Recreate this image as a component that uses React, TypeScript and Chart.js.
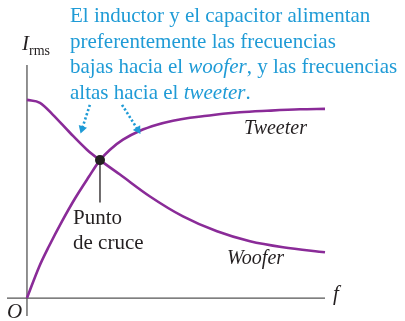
import React, { useEffect, useRef } from "react";
import { Chart, registerables } from "chart.js";

Chart.register(...registerables);

// Frequency (0..100 = origin..right end) and Irms (0..100) values
const wooferF = [0, 4.36, 8.72, 14.43, 20.13, 24.5, 31.21, 41.28, 52.35, 63.76, 74.83, 85.91, 100];
const wooferI = [99.5, 98, 92, 83, 74.5, 69.25, 62, 51, 41, 33.5, 28.5, 25.5, 23];
const tweeterF = [0, 4.03, 7.38, 11.74, 16.11, 20.81, 24.5, 27.85, 32.21, 37.92, 43.62, 48.99, 54.7, 60.4, 65.77, 71.48, 80.54, 91.61, 100];
const tweeterI = [0, 15.5, 26, 38.5, 50, 61, 69.25, 74.5, 79.5, 84, 87, 89, 90.5, 91.5, 92.5, 93.25, 94, 94.75, 95];
const crossPoint = [24.5, 69.25];
const stemBottom = 48;
const arrow1F = [21.1, 18.5];
const arrow1I = [97, 85];
const arrow2F = [31.9, 37.2];
const arrow2I = [97, 84.5];
const arrowAngles = [198, 148];
const xRange = [-6.7, 100];
const yRange = [-9, 117];

const PURPLE = "#8a2b98";
const BLUE = "#1f9bd6";
const INK = "#231f20";
const AXIS = "#555555";

const pts = (xs: number[], ys: number[]) => xs.map((x, i) => ({ x, y: ys[i] }));

export default function App() {
  const ref = useRef<HTMLCanvasElement | null>(null);
  useEffect(() => {
    if (!ref.current) return;
    const chart = new Chart(ref.current, {
      type: "line",
      data: {
        datasets: [
          {
            label: "cross",
            order: -2,
            data: [{ x: crossPoint[0], y: crossPoint[1] }],
            showLine: false,
            pointRadius: 5,
            pointBackgroundColor: INK,
            pointBorderColor: INK,
            pointBorderWidth: 0,
          },
          {
            label: "x-axis",
            order: 3,
            data: [{ x: xRange[0], y: 0 }, { x: xRange[1], y: 0 }],
            borderColor: AXIS,
            borderWidth: 1.3,
            pointRadius: 0,
          },
          {
            label: "y-axis",
            order: 3,
            data: [{ x: 0, y: yRange[0] }, { x: 0, y: yRange[1] }],
            borderColor: AXIS,
            borderWidth: 1.3,
            pointRadius: 0,
          },
          {
            label: "stem",
            order: -1,
            data: [{ x: crossPoint[0], y: crossPoint[1] }, { x: crossPoint[0], y: stemBottom }],
            borderColor: INK,
            borderWidth: 1.3,
            pointRadius: 0,
          },
          {
            label: "Woofer",
            order: 1,
            data: pts(wooferF, wooferI),
            borderColor: PURPLE,
            borderWidth: 2.6,
            pointRadius: 0,
            cubicInterpolationMode: "monotone",
          },
          {
            label: "Tweeter",
            order: 1,
            data: pts(tweeterF, tweeterI),
            borderColor: PURPLE,
            borderWidth: 2.6,
            pointRadius: 0,
            cubicInterpolationMode: "monotone",
          },
          {
            label: "arrow1",
            order: 0,
            data: pts(arrow1F, arrow1I),
            borderColor: BLUE,
            borderWidth: 2.6,
            borderDash: [2.2, 2.2],
            pointRadius: [0, 5],
            pointStyle: "triangle",
            pointRotation: [0, arrowAngles[0]],
            pointBackgroundColor: BLUE,
            pointBorderColor: BLUE,
            pointBorderWidth: 0,
          },
          {
            label: "arrow2",
            order: 0,
            data: pts(arrow2F, arrow2I),
            borderColor: BLUE,
            borderWidth: 2.6,
            borderDash: [2.2, 2.2],
            pointRadius: [0, 5],
            pointStyle: "triangle",
            pointRotation: [0, arrowAngles[1]],
            pointBackgroundColor: BLUE,
            pointBorderColor: BLUE,
            pointBorderWidth: 0,
          },
        ] as any,
      },
      options: {
        animation: false,
        responsive: false,
        devicePixelRatio: 1,
        clip: false as any,
        layout: { padding: { left: 7, right: 80, top: 65, bottom: 4 } },
        scales: {
          x: { type: "linear", min: xRange[0], max: xRange[1], display: false },
          y: { type: "linear", min: yRange[0], max: yRange[1], display: false },
        },
        plugins: { legend: { display: false }, tooltip: { enabled: false } },
        elements: { line: { borderCapStyle: "butt" } },
      },
    });
    return () => chart.destroy();
  }, []);

  const serif = "'Liberation Serif', 'Times New Roman', serif";
  const abs = (s: React.CSSProperties): React.CSSProperties => ({
    position: "absolute",
    margin: 0,
    whiteSpace: "nowrap",
    fontFamily: serif,
    ...s,
  });

  return (
    <div style={{ position: "fixed", left: 0, top: 0, width: 405, height: 321, background: "#fff", overflow: "hidden" }}>
      <canvas ref={ref} width={405} height={321} style={{ position: "absolute", left: 0, top: 0 }} />
      <div style={abs({ left: 70, top: 3, fontSize: 21, lineHeight: "25.5px", color: BLUE })}>
        El inductor y el capacitor alimentan
        <br />
        preferentemente las frecuencias
        <br />
        bajas hacia el <i>woofer</i>, y las frecuencias
        <br />
        altas hacia el <i>tweeter</i>.
      </div>
      <div style={abs({ left: 22, top: 33, fontSize: 21, lineHeight: "21px", color: INK })}>
        <i>I</i>
        <span style={{ fontSize: 14, position: "relative", top: 5 }}>rms</span>
      </div>
      <div style={abs({ left: 7, top: 301, fontSize: 21, lineHeight: "21px", color: INK, fontStyle: "italic" })}>O</div>
      <div style={abs({ left: 333, top: 283, fontSize: 21, lineHeight: "21px", color: INK, fontStyle: "italic" })}>f</div>
      <div style={abs({ left: 244, top: 117, fontSize: 20, lineHeight: "20px", color: INK, fontStyle: "italic" })}>Tweeter</div>
      <div style={abs({ left: 227, top: 247, fontSize: 20, lineHeight: "20px", color: INK, fontStyle: "italic" })}>Woofer</div>
      <div style={abs({ left: 73, top: 205, fontSize: 21, lineHeight: "25px", color: INK })}>
        Punto
        <br />
        de cruce
      </div>
    </div>
  );
}
